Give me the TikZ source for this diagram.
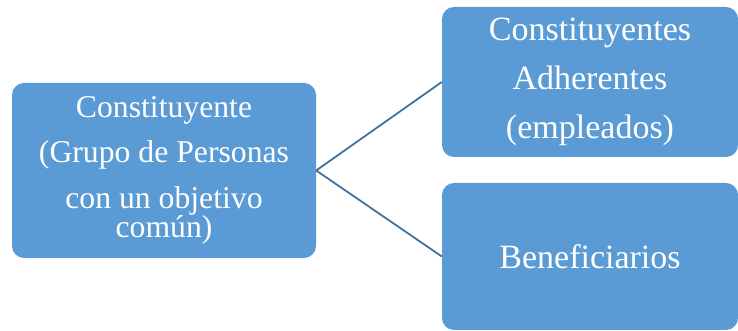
\documentclass[tikz,border=0pt]{standalone}
\usepackage{fontspec}
\setmainfont{Liberation Serif}
\definecolor{boxblue}{HTML}{5B9BD5}
\definecolor{linkblue}{HTML}{41719C}
\tikzset{
  diagbox/.style={rectangle, rounded corners=12pt, fill=boxblue, draw=none,
    text=white, align=center, inner sep=0pt},
  leftfont/.style={font={\fontsize{31.7}{45.5}\selectfont}},
  rightfont/.style={font={\fontsize{34}{49}\selectfont}},
  link/.style={draw=linkblue, line width=1.8pt}
}
\begin{document}
\begin{tikzpicture}[x=1pt,y=1pt]
\useasboundingbox (0,0) rectangle (738,331);
\node[diagbox, leftfont, minimum width=304pt, minimum height=175pt] (src) at (164,160.5)
  {Constituyente\\(Grupo de Personas\\con un objetivo\\[-16pt]común)};
\node[diagbox, rightfont, minimum width=296pt, minimum height=150pt] (adh) at (590,249)
  {Constituyentes\\Adherentes\\(empleados)};
\node[diagbox, rightfont, minimum width=296pt, minimum height=147pt] (ben) at (590,74.5)
  {Beneficiarios};
\draw[link] (src.east) -- (adh.west);
\draw[link] (src.east) -- (ben.west);
\end{tikzpicture}
\end{document}
